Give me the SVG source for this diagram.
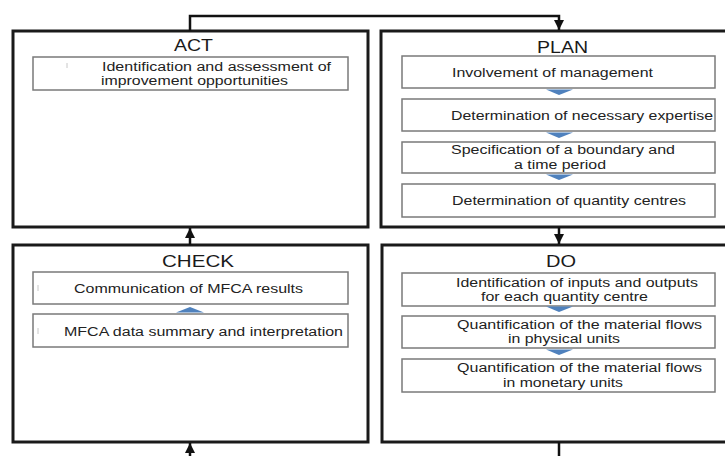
<svg xmlns="http://www.w3.org/2000/svg" width="725" height="456" viewBox="0 0 725 456">
<style>
.outer{fill:#fff;stroke:#1a1a1a;stroke-width:3}
.inner{fill:#fff;stroke:#7a7a7a;stroke-width:1.5}
.title{font-family:"Liberation Sans",Arial,sans-serif;font-size:16px;fill:#1a1a1a}
.t{font-family:"Liberation Sans",Arial,sans-serif;font-size:12.5px;fill:#222}
.chev{fill:#4f81bd}
.conn{fill:none;stroke:#111;stroke-width:2.5}
.tick{stroke:#c8c8c8;stroke-width:1}
</style>
<defs>
<marker id="ah" markerUnits="userSpaceOnUse" markerWidth="12" markerHeight="12" viewBox="0 0 12 12" refX="11" refY="6" orient="auto">
<path d="M1,1 L11,6 L1,11 Z" fill="#111"/>
</marker>
</defs>
<rect width="725" height="456" fill="#fff"/>

<g id="act">
<rect class="outer" x="13" y="31" width="355" height="196"/>
<text class="title" x="174" y="51" textLength="39" lengthAdjust="spacingAndGlyphs">ACT</text>
<rect class="inner" x="33" y="57" width="315" height="33"/>
<line class="tick" x1="67" y1="63" x2="67" y2="68"/>
<text class="t" x="102" y="70.5" textLength="229" lengthAdjust="spacingAndGlyphs">Identification and assessment of</text>
<text class="t" x="101" y="85" textLength="187" lengthAdjust="spacingAndGlyphs">improvement opportunities</text>
</g>

<g id="plan">
<rect class="outer" x="381" y="31" width="360" height="196"/>
<text class="title" x="537" y="53" textLength="51" lengthAdjust="spacingAndGlyphs">PLAN</text>
<rect class="inner" x="402" y="56" width="313" height="32"/>
<text class="t" x="452" y="77" textLength="201" lengthAdjust="spacingAndGlyphs">Involvement of management</text>
<polygon class="chev" points="546,89.5 573,89.5 559,95"/>
<rect class="inner" x="402" y="99" width="313" height="32"/>
<text class="t" x="451" y="120" textLength="262" lengthAdjust="spacingAndGlyphs">Determination of necessary expertise</text>
<polygon class="chev" points="546,132.5 573,132.5 559,138"/>
<rect class="inner" x="402" y="142" width="313" height="31"/>
<text class="t" x="451" y="154" textLength="224" lengthAdjust="spacingAndGlyphs">Specification of a boundary and</text>
<text class="t" x="514" y="168.5" textLength="92" lengthAdjust="spacingAndGlyphs">a time period</text>
<polygon class="chev" points="546,174.5 573,174.5 559,180"/>
<rect class="inner" x="402" y="184" width="313" height="33"/>
<text class="t" x="452" y="205" textLength="234" lengthAdjust="spacingAndGlyphs">Determination of quantity centres</text>
</g>

<g id="check">
<rect class="outer" x="13" y="245" width="355" height="197"/>
<text class="title" x="162" y="267" textLength="72" lengthAdjust="spacingAndGlyphs">CHECK</text>
<rect class="inner" x="33" y="272" width="315" height="32"/>
<line class="tick" x1="38" y1="285" x2="38" y2="291"/>
<text class="t" x="74" y="293" textLength="229" lengthAdjust="spacingAndGlyphs">Communication of MFCA results</text>
<polygon class="chev" points="176,312.5 204,312.5 190,307"/>
<rect class="inner" x="33" y="314" width="315" height="33"/>
<line class="tick" x1="38" y1="328" x2="38" y2="334"/>
<text class="t" x="64" y="336" textLength="279" lengthAdjust="spacingAndGlyphs">MFCA data summary and interpretation</text>
</g>

<g id="do">
<rect class="outer" x="382" y="245" width="360" height="197"/>
<text class="title" x="546" y="267" textLength="30" lengthAdjust="spacingAndGlyphs">DO</text>
<rect class="inner" x="402" y="273" width="313" height="33"/>
<text class="t" x="456" y="286.5" textLength="242" lengthAdjust="spacingAndGlyphs">Identification of inputs and outputs</text>
<text class="t" x="481" y="301" textLength="167" lengthAdjust="spacingAndGlyphs">for each quantity centre</text>
<polygon class="chev" points="546,306.5 573,306.5 559,312"/>
<rect class="inner" x="402" y="316" width="313" height="32"/>
<text class="t" x="457" y="328.5" textLength="245" lengthAdjust="spacingAndGlyphs">Quantification of the material flows</text>
<text class="t" x="508" y="343" textLength="112" lengthAdjust="spacingAndGlyphs">in physical units</text>
<polygon class="chev" points="546,349.5 573,349.5 559,355"/>
<rect class="inner" x="402" y="359" width="313" height="33"/>
<text class="t" x="457" y="372" textLength="245" lengthAdjust="spacingAndGlyphs">Quantification of the material flows</text>
<text class="t" x="503" y="386.5" textLength="120" lengthAdjust="spacingAndGlyphs">in monetary units</text>
</g>

<g id="connectors">
<path class="conn" d="M190,31 V16 H559 V30" marker-end="url(#ah)"/>
<path class="conn" d="M559,227 V244" marker-end="url(#ah)"/>
<path class="conn" d="M190,245 V228" marker-end="url(#ah)"/>
<path class="conn" d="M559,442 V460"/>
<path class="conn" d="M190,460 V443" marker-end="url(#ah)"/>
</g>
</svg>
